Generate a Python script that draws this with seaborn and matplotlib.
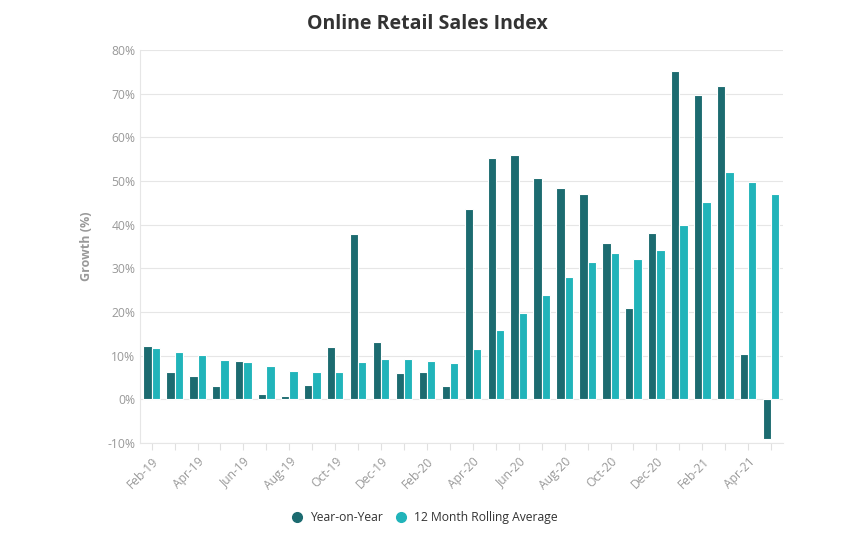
import pandas as pd
import numpy as np
import matplotlib.pyplot as plt
import seaborn as sns
from matplotlib.lines import Line2D
from matplotlib.ticker import FuncFormatter

# data
months = ['Feb-19', 'Mar-19', 'Apr-19', 'May-19', 'Jun-19', 'Jul-19', 'Aug-19', 'Sep-19',
          'Oct-19', 'Nov-19', 'Dec-19', 'Jan-20', 'Feb-20', 'Mar-20', 'Apr-20', 'May-20',
          'Jun-20', 'Jul-20', 'Aug-20', 'Sep-20', 'Oct-20', 'Nov-20', 'Dec-20', 'Jan-21',
          'Feb-21', 'Mar-21', 'Apr-21', 'May-21']
yoy = [12.2, 6.2, 5.4, 3.1, 8.8, 1.3, 0.7, 3.4, 12.0, 37.8, 13.2, 6.0, 6.2, 3.0,
       43.5, 55.2, 56.0, 50.6, 48.5, 47.0, 35.8, 21.0, 38.0, 75.2, 69.8, 71.8, 10.3, -9.0]
rolling = [11.8, 10.8, 10.1, 9.0, 8.5, 7.6, 6.6, 6.2, 6.2, 8.6, 9.3, 9.2, 8.7, 8.4,
           11.6, 16.0, 19.8, 24.0, 28.0, 31.5, 33.5, 32.2, 34.2, 40.0, 45.3, 52.0, 49.8, 47.0]
series_names = ['Year-on-Year', '12 Month Rolling Average']
colors = ['#1c6b70', '#21b4ba']

df = pd.DataFrame({
    'month': months * 2,
    'value': yoy + rolling,
    'series': [series_names[0]] * len(months) + [series_names[1]] * len(months),
})

sns.set_style('white')
plt.rcParams['font.family'] = ['Open Sans', 'DejaVu Sans']

fig = plt.figure(figsize=(8.6, 5.36), dpi=100)
ax = fig.add_axes([0.163, 0.1735, 0.747, 0.733])

sns.barplot(data=df, x='month', y='value', hue='series', palette=colors, saturation=1,
            width=0.72, edgecolor='white', linewidth=0.8, ax=ax, legend=False)

ax.set_ylim(-10, 80)
ax.set_yticks(range(-10, 81, 10))
ax.yaxis.set_major_formatter(FuncFormatter(lambda v, p: f'{int(v)}%'))
ax.set_xlim(-0.5, len(months) - 0.5)
ax.set_xticks(range(len(months)))
ax.set_xticklabels([m if i % 2 == 0 else '' for i, m in enumerate(months)],
                   rotation=45, ha='right', rotation_mode='anchor')

ax.grid(axis='y', color='#e6e6e6', linewidth=0.8)
ax.set_axisbelow(True)
for s in ['top', 'right']:
    ax.spines[s].set_visible(False)
ax.spines['left'].set_color('#e6e6e6')
ax.spines['bottom'].set_color('#e6e6e6')
ax.tick_params(axis='x', colors='#999999', labelsize=8.7, length=5, width=0.8, direction='out', bottom=True)
ax.tick_params(axis='y', colors='#999999', labelsize=8.7, length=0)
ax.tick_params(axis='x', color='#e0e0e0')

ax.set_xlabel('')
ax.set_ylabel('Growth (%)', color='#999999', fontsize=9, fontweight='bold', labelpad=10)
fig.text(0.497, 0.955, 'Online Retail Sales Index', ha='center', va='center',
         fontsize=14, fontweight='bold', color='#333333')

handles = [Line2D([], [], marker='o', linestyle='', markersize=7, color=c) for c in colors]
fig.legend(handles, series_names, loc='center', bbox_to_anchor=(0.49, 0.035), ncol=2,
           frameon=False, fontsize=8.7, handletextpad=0.05, columnspacing=0.5, labelcolor='#333333')

plt.savefig('out.png', dpi=100)
